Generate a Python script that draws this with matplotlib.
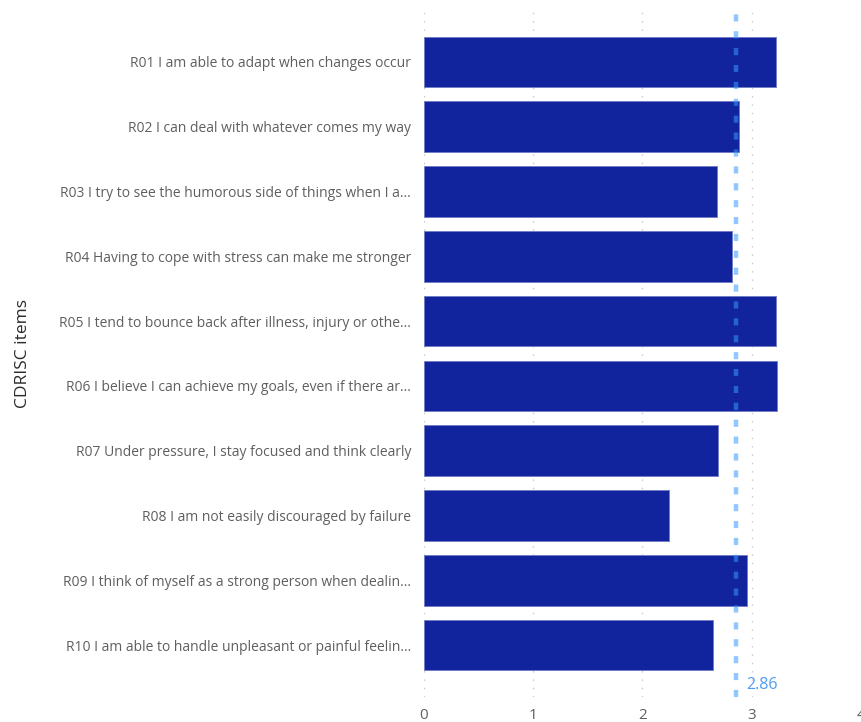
import numpy as np
import matplotlib.pyplot as plt

plt.rcParams['font.family'] = ['Open Sans', 'DejaVu Sans']

# CD-RISC item means
items = [
    'R01 I am able to adapt when changes occur',
    'R02 I can deal with whatever comes my way',
    'R03 I try to see the humorous side of things when I a...',
    'R04 Having to cope with stress can make me stronger',
    'R05 I tend to bounce back after illness, injury or othe...',
    'R06 I believe I can achieve my goals, even if there ar...',
    'R07 Under pressure, I stay focused and think clearly',
    'R08 I am not easily discouraged by failure',
    'R09 I think of myself as a strong person when dealin...',
    'R10 I am able to handle unpleasant or painful feelin...',
]
scores = [3.22, 2.88, 2.68, 2.82, 3.22, 3.23, 2.69, 2.24, 2.96, 2.65]
x_ticks = [0, 1, 2, 3, 4]

avg = np.mean(scores)

fig = plt.figure(figsize=(8.61, 7.22), dpi=100)
ax = fig.add_axes([0.4919, 0.0346, 0.5081, 0.9515])

y = np.arange(len(items))
ax.barh(y, scores, height=0.78, color='#12239E', edgecolor='#6f7bc4', linewidth=0.6, zorder=2)

# average line
ax.axvline(avg, color='#3399ff', alpha=0.55, linewidth=3.2, linestyle=(0, (1.6, 2.2)), zorder=3)
ax.annotate(f'{avg:.2f}', xy=(avg, 9.8), xytext=(7, 3), textcoords='offset points',
            color='#4f9cf0', fontsize=11.5, ha='left', va='bottom')

ax.set_xlim(0, 4)
ax.set_ylim(9.8, -0.8)
ax.set_yticks(y)
ax.set_yticklabels(items)
ax.set_xticks(x_ticks)
ax.tick_params(axis='both', length=0, colors='#5f5f5f', labelsize=10)
ax.tick_params(axis='x', labelsize=11, pad=8)
ax.tick_params(axis='y', pad=9)

ax.grid(axis='x', color='#c8c8c8', linestyle=(0, (1, 5)), linewidth=1, zorder=0)
ax.set_axisbelow(True)
for s in ax.spines.values():
    s.set_visible(False)

ax.set_ylabel('CDRISC items', fontsize=12.5, color='#2b2b2b', fontweight='medium')
ax.yaxis.set_label_coords(-0.897, 0.5)

plt.savefig('out.png', dpi=100)
